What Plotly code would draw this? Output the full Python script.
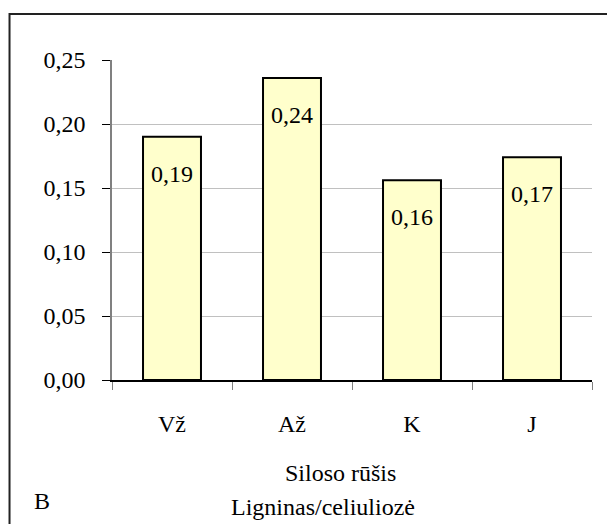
import plotly.graph_objects as go

# Lignin / cellulose ratio by silage type
categories = ["Vž", "Až", "K", "J"]
ratio = [0.19, 0.236, 0.156, 0.174]
y_ticks = [0.00, 0.05, 0.10, 0.15, 0.20, 0.25]

FONT = "'Times New Roman', 'Liberation Serif', 'DejaVu Serif', serif"
SIZE = 24

def comma(v):
    return f"{v:.2f}".replace(".", ",")

fig = go.Figure(
    go.Bar(
        x=categories,
        y=ratio,
        marker=dict(color="#FFFFCC", line=dict(color="black", width=2)),
        hoverinfo="skip",
    )
)

# value labels just inside the top of each bar
for c, v in zip(categories, ratio):
    fig.add_annotation(
        x=c, y=v, text=comma(v), showarrow=False, yshift=-37,
        font=dict(family=FONT, size=SIZE, color="black"),
    )

# axis title (two lines) and panel letter
fig.add_annotation(x=0.475, y=-0.339, xref="paper", yref="paper", text="Siloso rūšis",
                   showarrow=False, font=dict(family=FONT, size=SIZE, color="black"))
fig.add_annotation(x=0.44, y=-0.445, xref="paper", yref="paper", text="Ligninas/celiuliozė",
                   showarrow=False, font=dict(family=FONT, size=SIZE, color="black"))
fig.add_annotation(x=-0.166, y=-0.425, xref="paper", yref="paper", text="B",
                   showarrow=False, font=dict(family=FONT, size=SIZE, color="black"))

# chart frame
fig.add_shape(type="rect", xref="paper", yref="paper",
              x0=-0.2135, x1=1.1, y0=-0.6, y1=1.144,
              line=dict(color="#222222", width=2), layer="below")

fig.update_layout(
    width=607, height=524,
    margin=dict(l=112, r=15, t=59.5, b=143.5),
    paper_bgcolor="white", plot_bgcolor="white",
    showlegend=False,
    bargap=0.517,
    font=dict(family=FONT, size=SIZE, color="black"),
    xaxis=dict(
        showline=True, linecolor="black", linewidth=1.5,
        ticks="outside", tickson="boundaries", ticklen=8, tickcolor="#808080",
        tickfont=dict(family=FONT, size=SIZE, color="black"),
        ticklabelstandoff=21,
        showgrid=False, zeroline=False,
    ),
    yaxis=dict(
        range=[0, 0.25], tickvals=y_ticks, ticktext=[comma(t) for t in y_ticks],
        showline=True, linecolor="#808080", linewidth=1.5,
        ticks="outside", ticklen=8, tickcolor="black",
        tickfont=dict(family=FONT, size=SIZE, color="black"),
        ticklabelstandoff=12,
        showgrid=True, gridcolor="#C0C0C0", gridwidth=1,
        zeroline=False,
    ),
)

fig.write_html("out.html")
